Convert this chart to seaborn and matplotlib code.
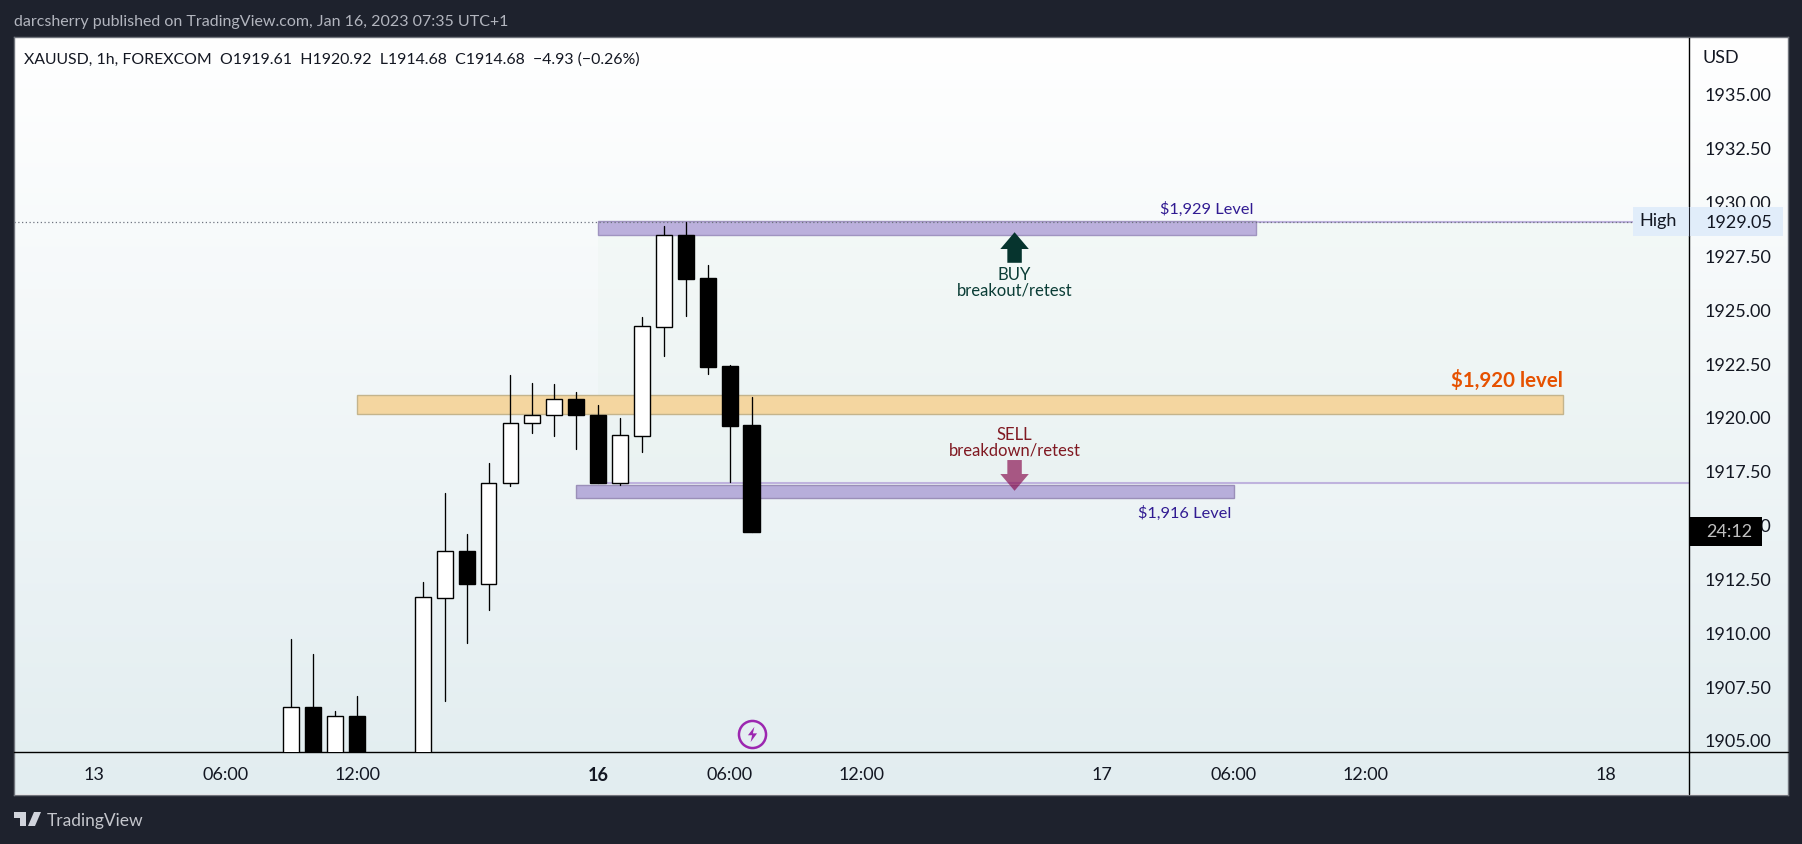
import numpy as np
import pandas as pd
import matplotlib
matplotlib.use("Agg")
import matplotlib.pyplot as plt
import seaborn as sns
from matplotlib.colors import LinearSegmentedColormap
from matplotlib.lines import Line2D
from matplotlib.patches import Polygon, Rectangle

# bar number counted in hours from the 12:00 candle of the 13th
bar_index = [-3, -2, -1, 0, 3, 4, 5, 6, 7, 8, 9, 10, 11, 12, 13, 14, 15, 16, 17, 18]
open_px = [1903.5, 1906.51, 1904.0, 1906.10, 1903.2, 1911.61, 1913.76, 1912.25, 1916.92, 1919.70,
           1920.08, 1920.82, 1920.08, 1916.95, 1919.13, 1924.19, 1928.44, 1926.45, 1922.37, 1919.61]
high_px = [1909.69, 1908.99, 1906.34, 1907.04, 1912.33, 1916.45, 1914.56, 1917.85, 1921.95, 1921.58,
           1921.53, 1921.16, 1920.55, 1919.94, 1924.64, 1928.87, 1929.05, 1927.06, 1922.41, 1920.92]
low_px = [1903.5, 1903.6, 1904.0, 1903.9, 1903.2, 1906.82, 1909.51, 1911.05, 1916.81, 1919.27,
          1919.11, 1918.53, 1916.95, 1916.84, 1918.39, 1922.85, 1924.69, 1922.01, 1916.98, 1914.68]
close_px = [1906.51, 1903.6, 1906.10, 1903.9, 1911.62, 1913.76, 1912.25, 1916.92, 1919.70, 1920.08,
            1920.82, 1920.07, 1916.95, 1919.15, 1924.21, 1928.44, 1926.41, 1922.33, 1919.58, 1914.68]

price_ticks = [1935, 1932.5, 1930, 1927.5, 1925, 1922.5, 1920, 1917.5, 1915, 1912.5, 1910, 1907.5, 1905]
time_ticks = [-12, -6, 0, 11, 17, 23, 34, 40, 46, 57]
time_labels = ["13", "06:00", "12:00", "16", "06:00", "12:00", "17", "06:00", "12:00", "18"]

W, H = 1802, 845
DARK = "#1e222d"
FONT = ["Lato", "DejaVu Sans"]
AXIS_SIZE = 13
NOTE_SIZE = 12

sns.set_theme(style="white")
plt.rcParams["font.family"] = FONT
plt.rcParams["axes.unicode_minus"] = False

df = pd.DataFrame({"bar": bar_index, "open": open_px, "high": high_px, "low": low_px, "close": close_px})
df["bottom"] = df[["open", "close"]].min(axis=1)
df["body"] = (df["close"] - df["open"]).abs()
up = df[df["close"] >= df["open"]]
down = df[df["close"] < df["open"]]
wicks = df.melt(id_vars="bar", value_vars=["low", "high"], value_name="price")


def fx(x):
    return x / W


def fy(y):
    return 1 - y / H


fig = plt.figure(figsize=(W / 100, H / 100), dpi=100, facecolor=DARK)

# gradient panel behind the chart and both axis strips
bg = fig.add_axes([fx(14), fy(795.5), fx(1788 - 14), (795.5 - 38) / H], zorder=0)
cmap = LinearSegmentedColormap.from_list("tv", ["#ffffff", "#e2edf0"])
bg.imshow(np.linspace(0, 1, 256)[:, None], aspect="auto", cmap=cmap)
bg.set_xticks([])
bg.set_yticks([])
for s in bg.spines.values():
    s.set_color("#70747c")
    s.set_linewidth(1)

ax = fig.add_axes([fx(14), fy(753), fx(1689 - 14), (753 - 39) / H], zorder=1)
ax.patch.set_alpha(0)

# levels and zones
ax.add_patch(Rectangle((11, 1916.95), 60, 1929.05 - 1916.95, fc="#4caf50", alpha=0.025, ec="none", zorder=1))
ax.add_patch(Rectangle((0, 1920.12), 55, 0.88, fc="#f4d6a0", ec="#c4b48c", lw=1, zorder=1.5))
ax.add_patch(Rectangle((11, 1928.44), 30, 0.67, fc="#bbb0dc", ec="#a094c0", lw=1, zorder=1.5))
ax.add_patch(Rectangle((10, 1916.22), 30, 0.61, fc="#b7aeda", ec="#9a8fb8", lw=1, zorder=1.5))
ax.plot([41, 70], [1929.05, 1929.05], color="#bfb3de", lw=1.5, zorder=1.4)
ax.plot([11, 70], [1916.95, 1916.95], color="#bfb3de", lw=1.5, zorder=1.4)
ax.axhline(1929.05, color="#6f7480", lw=0.9, ls=(0, (1, 2)), zorder=1.6)

# candles
sns.lineplot(data=wicks, x="bar", y="price", units="bar", estimator=None, color="black",
             linewidth=0.95, legend=False, ax=ax, zorder=3)
sns.barplot(data=up, x="bar", y="body", bottom=up["bottom"], native_scale=True, color="white", saturation=1,
            width=0.72, edgecolor="black", linewidth=1, errorbar=None, ax=ax, zorder=4)
sns.barplot(data=down, x="bar", y="body", bottom=down["bottom"], native_scale=True, color="black", saturation=1,
            width=0.74, edgecolor="black", linewidth=1, errorbar=None, ax=ax, zorder=4)

# buy and sell arrows
ax.add_patch(Polygon([(30, 1928.58), (30.65, 1927.80), (30.33, 1927.80), (30.33, 1927.16),
                      (29.67, 1927.16), (29.67, 1927.80), (29.35, 1927.80)], fc="#06342e", ec="none", zorder=5))
ax.add_patch(Polygon([(30, 1916.57), (30.65, 1917.35), (30.33, 1917.35), (30.33, 1918.0),
                      (29.67, 1918.0), (29.67, 1917.35), (29.35, 1917.35)], fc="#880e4f", alpha=0.68, ec="none", zorder=5))

ax.text(30, 1926.65, "BUY", ha="center", va="center", color="#0b3d36", fontsize=NOTE_SIZE, zorder=5)
ax.text(30, 1925.9, "breakout/retest", ha="center", va="center", color="#0b3d36", fontsize=NOTE_SIZE, zorder=5)
ax.text(30, 1919.22, "SELL", ha="center", va="center", color="#801922", fontsize=NOTE_SIZE, zorder=5)
ax.text(30, 1918.48, "breakdown/retest", ha="center", va="center", color="#801922", fontsize=NOTE_SIZE, zorder=5)
ax.text(40.9, 1929.7, "$1,929 Level", ha="right", va="center", color="#311b92", fontsize=11.8, zorder=5)
ax.text(39.9, 1915.55, "$1,916 Level", ha="right", va="center", color="#311b92", fontsize=11.8, zorder=5)
ax.text(55, 1921.75, "$1,920 level", ha="right", va="center", color="#e65100", fontsize=14.8, weight="bold", zorder=5)

# event marker at the last candle
bolt = [(0.25, 1), (-0.6, -0.1), (-0.05, -0.1), (-0.25, -1), (0.6, 0.15), (0.05, 0.15)]
ax.plot([18], [1905.27], marker="o", ms=19.5, mfc="none", mec="#9c27b0", mew=1.8, zorder=5, clip_on=False)
ax.plot([18], [1905.27], marker=bolt, ms=11, mfc="#9c27b0", mec="none", zorder=5, clip_on=False)

ax.set_xlim(-15.65, 60.77)
ax.set_ylim(1904.44, 1937.6)
ax.set_xlabel("")
ax.set_ylabel("")
ax.yaxis.tick_right()
ax.set_yticks(price_ticks)
ax.set_yticklabels([f"{p:.2f}" for p in price_ticks], fontsize=AXIS_SIZE, color="#131722")
ax.set_xticks(time_ticks)
ax.set_xticklabels(time_labels, fontsize=AXIS_SIZE, color="#131722")
ax.get_xticklabels()[3].set_fontweight("bold")
ax.tick_params(axis="y", length=0, pad=11, right=False)
ax.tick_params(axis="x", length=0, pad=10, bottom=False)
for name in ["left", "top"]:
    ax.spines[name].set_visible(False)
for name in ["right", "bottom"]:
    ax.spines[name].set_color("black")
    ax.spines[name].set_linewidth(1)

# axis strip lines
fig.add_artist(Line2D([fx(1689), fx(1788)], [fy(753), fy(753)], color="black", lw=1, zorder=2))
fig.add_artist(Line2D([fx(1689), fx(1689)], [fy(753), fy(795)], color="black", lw=1, zorder=2))

fig.text(fx(24.5), fy(60), "XAUUSD, 1h, FOREXCOM  O1919.61  H1920.92  L1914.68  C1914.68  \u22124.93 (\u22120.26%)",
         ha="left", va="center", fontsize=11.4, color="#131722", zorder=5)
fig.text(fx(14), fy(21.7), "darcsherry published on TradingView.com, Jan 16, 2023 07:35 UTC+1",
         ha="left", va="center", fontsize=11.5, color="#b2b5be")
fig.text(fx(1702.5), fy(58), "USD", ha="left", va="center", fontsize=AXIS_SIZE, color="#131722", zorder=5)

# price labels on top of the tick labels
fig.add_artist(Rectangle((fx(1633), fy(236.5)), fx(150), 28.5 / H, fc="#e1edfa", ec="none",
                         transform=fig.transFigure, zorder=3))
fig.add_artist(Line2D([fx(1689), fx(1689)], [fy(208), fy(236.5)], color="#1e222d", lw=0.8, zorder=4))
fig.text(fx(1658), fy(221), "High", ha="center", va="center", fontsize=AXIS_SIZE, color="#131722", zorder=5)
fig.text(fx(1739), fy(222.5), "1929.05", ha="center", va="center", fontsize=AXIS_SIZE, color="#131722", zorder=5)
fig.add_artist(Rectangle((fx(1689), fy(546.5)), fx(73), 28.5 / H, fc="black", ec="none",
                         transform=fig.transFigure, zorder=3))
fig.text(fx(1729), fy(532), "24:12", ha="center", va="center", fontsize=AXIS_SIZE, color="#c0c0c0", zorder=5)

# TradingView mark and name
fig.add_artist(Polygon([(fx(14), fy(813)), (fx(26), fy(813)), (fx(26), fy(827)), (fx(20), fy(827)),
                        (fx(20), fy(819)), (fx(14), fy(819))], fc="#d1d4dc", ec="none", transform=fig.transFigure))
fig.add_artist(Polygon([(fx(34), fy(813)), (fx(41), fy(813)), (fx(35), fy(827)), (fx(28), fy(827))],
                       fc="#d1d4dc", ec="none", transform=fig.transFigure))
fig.text(fx(47), fy(821), "TradingView", ha="left", va="center", fontsize=12.5, color="#c4c6cc")

fig.savefig("out.png", dpi=100, facecolor=DARK)
